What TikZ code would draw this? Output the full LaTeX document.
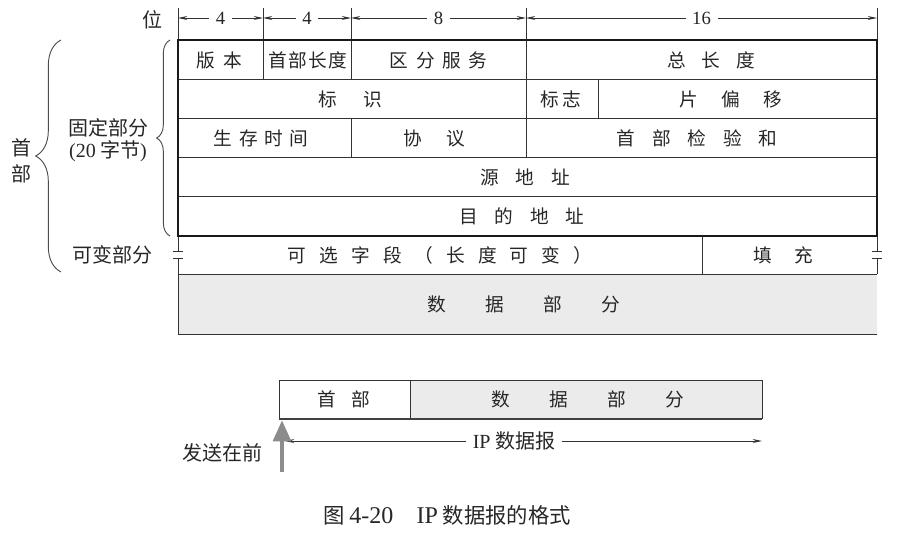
\documentclass[tikz,border=0pt]{standalone}
\usepackage{fontspec}
\setmainfont{Noto Sans CJK SC}
\newfontfamily\latin{Liberation Serif}
\usepackage{tikz}
\usetikzlibrary{positioning,arrows.meta,decorations.pathreplacing}

% letters of a label set apart by #1
\makeatletter
\newcommand\spread[2]{\let\spr@sep\relax\@tfor\spr@c:=#2\do{\spr@sep\spr@c\def\spr@sep{\hspace{#1}}}}
\makeatother

\begin{document}
\begin{tikzpicture}[x=0.75pt,y=0.75pt,yscale=-1,xscale=1,
  every node/.style={font=\fontsize{14}{16}\selectfont,text=black!85},
  side/.style={font=\fontsize{15}{17}\selectfont},
  rule/.style={draw=black!80,line width=0.7pt},
  frame/.style={draw=black!90,line width=1.8pt},
  datafill/.style={fill=black!8},
  dim/.style={draw=black!80,line width=0.7pt,{Stealth[length=7pt,width=3pt]}-{Stealth[length=7pt,width=3pt]}},
  gap/.style={fill=white,inner xsep=5pt,inner ysep=2pt},
  curly/.style={decorate,decoration={brace,amplitude=#1},draw=black!70,line width=0.7pt},
  sendarrow/.style={draw=black!45,line width=3.5pt,-{Triangle[length=16pt,width=13pt]}}]
\useasboundingbox (0,0) rectangle (905,539);

%Bit scale
\foreach \x/\n in {178/b0,263/b1,351/b2,526/b3,877/b4}
  {\coordinate (\n) at (\x,18);
   \draw[rule] (\x,8) -- (\x,40);}
\draw[dim] (b0) -- (b1) node[midway,gap] (w1) {\latin 4};
\draw[dim] (b1) -- (b2) node[midway,gap] (w2) {\latin 4};
\draw[dim] (b2) -- (b3) node[midway,gap] (w3) {\latin 8};
\draw[dim] (b3) -- (b4) node[midway,gap] (w4) {\latin 16};
% Text Node
\draw (152,20) node [inner sep=0.75pt,side] (bits) {位};

%Data part
\fill[datafill] (178,274) rectangle (877,334);
\draw[rule] (178,274) -- (877,274) (178,334) -- (877,334);
%Variable part: side lines broken at the = marks
\draw[rule] (178,236) -- (178,251.5) (178,258.5) -- (178,334);
\draw[rule] (877,236) -- (877,251.5) (877,258.5) -- (877,274);
\draw[rule] (173,251.5) -- (183,251.5) (173,258.5) -- (183,258.5);
\draw[rule] (872,251.5) -- (882,251.5) (872,258.5) -- (882,258.5);
\draw[rule] (702,236) -- (702,274);

%Fixed part: rows and cells
\foreach \y in {79,118,157,196}
  \draw[rule] (178,\y) -- (877,\y);
\draw[rule] (263,40) -- (263,79) (351,40) -- (351,79) (526,40) -- (526,79);
\draw[rule] (526,79) -- (526,118) (598,79) -- (598,118);
\draw[rule] (351,118) -- (351,157) (526,118) -- (526,157);
\draw[frame] (178,40) rectangle (877,236);

% Text Node
\draw (219,60) node [inner sep=0.75pt] (ver) {\spread{0.45em}{版本}};
\draw (308,60) node [inner sep=0.75pt] (ihl) {\spread{0.08em}{首部长度}};
\draw (438.5,60) node [inner sep=0.75pt] (tos) {\spread{0.4em}{区分服务}};
\draw (711,60) node [inner sep=0.75pt] (len) {\spread{0.85em}{总长度}};
\draw (350,99) node [inner sep=0.75pt] (ident) {\spread{1.4em}{标识}};
\draw (561,99) node [inner sep=0.75pt] (flags) {\spread{0.2em}{标志}};
\draw (731,99) node [inner sep=0.75pt] (frag) {\spread{1.25em}{片偏移}};
\draw (261,138) node [inner sep=0.75pt] (ttl) {\spread{0.35em}{生存时间}};
\draw (434,138) node [inner sep=0.75pt] (proto) {\spread{1.3em}{协议}};
\draw (697,138) node [inner sep=0.75pt] (csum) {\spread{0.9em}{首部检验和}};
\draw (525,177) node [inner sep=0.75pt] (src) {\spread{0.9em}{源地址}};
\draw (522,216) node [inner sep=0.75pt] (dst) {\spread{0.9em}{目的地址}};
\draw (440,255) node [inner sep=0.75pt] (opt) {\spread{0.7em}{可选字段（长度可变）}};
\draw (783,255) node [inner sep=0.75pt] (pad) {\spread{1.2em}{填充}};
\draw (524,304) node [inner sep=0.75pt] (data) {\spread{2.1em}{数据部分}};

%Braces
\draw[curly=10pt] (170,236) -- (170,40);
\draw[curly=19pt] (61,272) -- (61,40);
% Text Node
\draw (108,128) node [inner sep=0.75pt,side] (fix) {固定部分};
\draw (108,151) node [inner sep=0.75pt,side] (fixlen) {{\latin (20} 字节{\latin )}};
\draw (112,255) node [inner sep=0.75pt,side] (var) {可变部分};
\draw (22,161) node [inner sep=0.75pt,align=center,font=\fontsize{15}{19}\selectfont] (head) {首\\部};

%Datagram in one line
\fill[datafill] (410,380) rectangle (762,418);
\draw[rule] (279,380) rectangle (762,418);
\draw[rule] (410,380) -- (410,418);
\draw[draw=black!75,line width=1.5pt] (279,418.5) -- (762,418.5);
% Text Node
\draw (344,399) node [inner sep=0.75pt] (hdr) {\spread{0.8em}{首部}};
\draw (588,399) node [inner sep=0.75pt] (pay) {\spread{2.1em}{数据部分}};

%Arrows under it
\coordinate (dgL) at (285,441);
\coordinate (dgR) at (762,441);
\draw[dim] (dgL) -- (dgR) node[pos=0.48,gap,side] (dg) {{\latin IP} 数据报};
\coordinate (sendfoot) at (282,472);
\coordinate (sendtip) at (282,420);
\draw[sendarrow] (sendfoot) -- (sendtip);
% Text Node
\draw (222,453) node [inner sep=0.75pt,side] (first) {发送在前};

%Caption
\draw (447,515) node [inner sep=0.75pt,font=\fontsize{16}{18}\selectfont] (cap) {图 {\latin\fontsize{18}{18}\selectfont 4-20}\hspace{1.1em}{\latin\fontsize{18}{18}\selectfont IP} 数据报的格式};
\end{tikzpicture}
\end{document}
